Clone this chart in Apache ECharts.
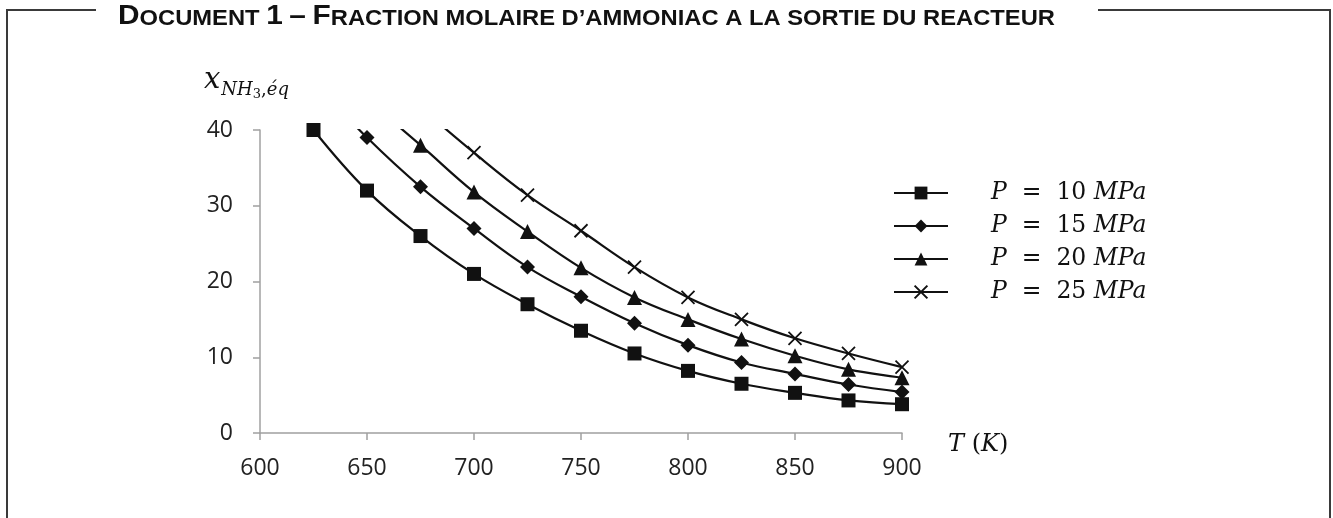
<!DOCTYPE html>
<html>
<head>
<meta charset="utf-8">
<script src="https://cdn.jsdelivr.net/npm/echarts@6/dist/echarts.min.js"></script>
<style>
html,body{margin:0;padding:0;background:#fff;}
#chart{width:1333px;height:518px;}
</style>
</head>
<body>
<div id="chart"></div>
<script>
// ---- data ----
const temperatures = [625, 650, 675, 700, 725, 750, 775, 800, 825, 850, 875, 900];
const pressures = [10, 15, 20, 25];
// first values of P=15/20/25 lie above the plot top (line enters from above)
const xP10 = [40, 32, 26, 21, 17, 13.5, 10.5, 8.2, 6.5, 5.3, 4.3, 3.8];
const xP15 = [46.4, 39, 32.5, 27, 21.9, 18, 14.5, 11.6, 9.3, 7.8, 6.4, 5.4];
const xP20 = [null, 44, 38, 31.8, 26.6, 21.8, 17.9, 15, 12.4, 10.2, 8.4, 7.3];
const xP25 = [null, null, 43, 37, 31.4, 26.7, 21.9, 17.9, 15, 12.5, 10.5, 8.7];
const xTicks = [600, 650, 700, 750, 800, 850, 900];
const yTicks = [0, 10, 20, 30, 40];
const titleText = "DOCUMENT 1 – FRACTION MOLAIRE D’AMMONIAC A LA SORTIE DU REACTEUR";

const seriesValues = [xP10, xP15, xP20, xP25];
const symbols = ['rect', 'diamond', 'triangle', 'path://M0,0L10,10M10,0L0,10'];
const symbolSizes = [14, 15, 15, 13];

const chart = echarts.init(document.getElementById('chart'), null, {renderer: 'canvas'});

// ---- title as small caps (rich text): big letters at "D" of Document and "F" of Fraction ----
const BIG = 27, SMALL = 21.5;
const bigIdx = new Set([0, titleText.indexOf('FRACTION')]);
function smallCaps(str) {
  const parts = [];
  for (let i = 0; i < str.length; i++) {
    const ch = str[i];
    const big = bigIdx.has(i) || /[0-9–]/.test(ch);
    parts.push((big ? '{b|' : '{s|') + ch + '}');
  }
  return parts.join('');
}
const cv = document.createElement('canvas').getContext('2d');
function measureTitle(str) {
  let w = 0;
  const re = /\{([bs])\|([^}]*)\}/g;
  let m;
  while ((m = re.exec(str))) {
    cv.font = 'bold ' + (m[1] === 'b' ? BIG : SMALL) + 'px "Liberation Sans"';
    w += cv.measureText(m[2]).width;
  }
  return w;
}
const titleRich = smallCaps(titleText);
const titleW = measureTitle(titleRich);
const titleScale = 937 / titleW;

const frameColor = '#3a3a3a';
const mathFont = '"DejaVu Serif"';

const option = {
  backgroundColor: '#ffffff',
  animation: false,
  grid: {left: 260, right: 431, top: 130, bottom: 85, containLabel: false},
  xAxis: {
    type: 'value', min: 600, max: 900, interval: 50,
    name: '{i|T}{n| (}{i|K}{n|)}',
    nameLocation: 'end', nameGap: 46,
    nameTextStyle: {
      align: 'left', verticalAlign: 'middle', padding: [24, 0, 0, 0],
      rich: {
        i: {fontFamily: mathFont, fontStyle: 'italic', fontSize: 24, color: '#111'},
        n: {fontFamily: mathFont, fontSize: 24, color: '#111'}
      }
    },
    axisLine: {show: true, lineStyle: {color: '#a0a0a0', width: 1.5}},
    axisTick: {show: true, inside: false, length: 7, lineStyle: {color: '#a0a0a0', width: 1.5}},
    axisLabel: {
      margin: 24, color: '#222', fontFamily: '"Open Sans"', fontSize: 23,
      customValues: xTicks
    },
    splitLine: {show: false}
  },
  yAxis: {
    type: 'value', min: 0, max: 40, interval: 10,
    axisLine: {show: true, lineStyle: {color: '#a0a0a0', width: 1.5}},
    axisTick: {show: true, length: 7, lineStyle: {color: '#a0a0a0', width: 1.5}},
    axisLabel: {margin: 27, color: '#222', fontFamily: '"Open Sans"', fontSize: 23, customValues: yTicks},
    splitLine: {show: false}
  },
  legend: {
    orient: 'vertical', left: 893, top: 181, padding: 0,
    itemWidth: 54, itemHeight: 16, itemGap: 9,
    selectedMode: false,
    data: pressures.map(p => 'P = ' + p + ' MPa'),
    formatter: function (name) {
      const p = name.match(/\d+/)[0];
      return '{i|P}{n|  =  ' + p + ' }{i|MPa}';
    },
    textStyle: {
      padding: [0, 0, 0, 38],
      rich: {
        i: {fontFamily: mathFont, fontStyle: 'italic', fontSize: 23.5, color: '#111', lineHeight: 16},
        n: {fontFamily: mathFont, fontSize: 23.5, color: '#111', lineHeight: 16}
      }
    }
  },
  graphic: [
    {type: 'polyline', silent: true, shape: {points: [[96, 10], [7, 10], [7, 518]]}, style: {stroke: frameColor, lineWidth: 2, fill: null}},
    {type: 'polyline', silent: true, shape: {points: [[1098, 10], [1330, 10], [1330, 518]]}, style: {stroke: frameColor, lineWidth: 2, fill: null}},
    {
      type: 'text', silent: true, left: 118, top: 3, scaleX: titleScale, originX: 0,
      style: {
        text: titleRich,
        rich: {
          b: {fontFamily: '"Liberation Sans"', fontWeight: 'bold', fontSize: BIG, lineHeight: BIG, verticalAlign: 'bottom', fill: '#111'},
          s: {fontFamily: '"Liberation Sans"', fontWeight: 'bold', fontSize: SMALL, lineHeight: SMALL, verticalAlign: 'bottom', fill: '#111'}
        }
      }
    },
    {
      type: 'text', silent: true, left: 204, top: 66,
      style: {
        text: '{x|x}{s|NH}{t|3}{c|,}{s|éq}',
        rich: {
          x: {fontFamily: mathFont, fontStyle: 'italic', fontSize: 29, lineHeight: 29, padding: [0, 1, 6, 0], verticalAlign: 'bottom', fill: '#111'},
          s: {fontFamily: mathFont, fontStyle: 'italic', fontSize: 18, lineHeight: 18, padding: [0, 0, 2, 0], verticalAlign: 'bottom', fill: '#111'},
          t: {fontFamily: mathFont, fontSize: 13, lineHeight: 13, padding: [0, 0, 0, 0], verticalAlign: 'bottom', fill: '#111'},
          c: {fontFamily: mathFont, fontSize: 18, lineHeight: 18, padding: [0, 0, 2, 0], verticalAlign: 'bottom', fill: '#111'}
        }
      }
    }
  ],
  series: pressures.map((p, si) => ({
    name: 'P = ' + p + ' MPa',
    type: 'line',
    smooth: 0.4,
    clip: true,
    symbol: symbols[si],
    symbolSize: symbolSizes[si],
    showSymbol: true,
    lineStyle: {color: '#111', width: 2.2},
    itemStyle: si === 3
      ? {color: '#111', borderColor: '#111', borderWidth: 1.8}
      : {color: '#111', borderWidth: 0},
    data: temperatures.map((t, i) => seriesValues[si][i] == null ? [t, null] : [t, seriesValues[si][i]])
  }))
};
chart.setOption(option);
</script>
</body>
</html>
